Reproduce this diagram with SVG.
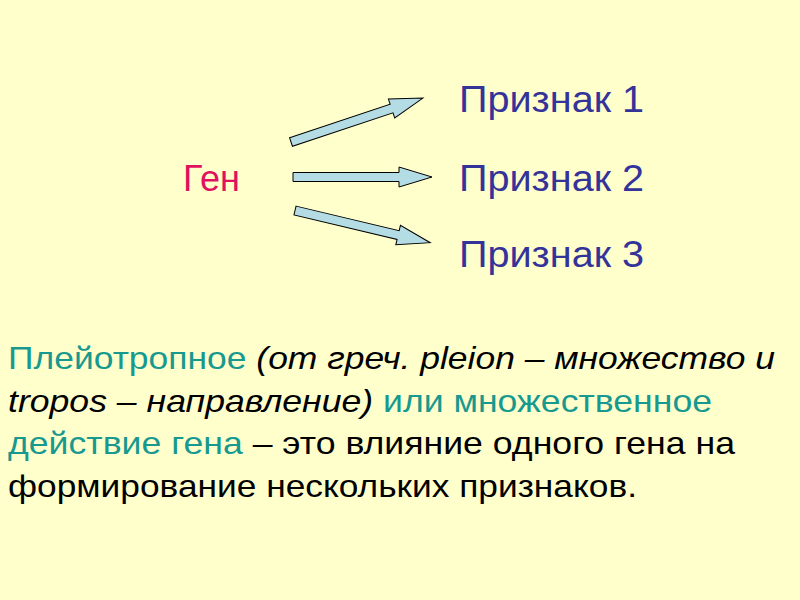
<svg xmlns="http://www.w3.org/2000/svg" width="800" height="600" viewBox="0 0 800 600">
<style>
.bg{fill:#FFFFCC}
.arrow{fill:#B4DCE4;stroke:#000;stroke-width:1}
.trait{font-family:"Liberation Sans",Arial,sans-serif;font-size:37px;fill:#333399}
.gene{font-family:"Liberation Sans",Arial,sans-serif;font-size:36px;fill:#E0115F}
.body{font-family:"Liberation Sans Narrow","Liberation Sans",Arial,sans-serif;font-size:32px;fill:#000}
.teal{fill:#17998F}
.it{font-style:italic}
</style>
<defs>
<polygon id="arr" points="0,-4.5 106,-4.5 106,-10 139,0 106,10 106,4.5 0,4.5"/>
</defs>
<rect class="bg" x="0" y="0" width="800" height="600"/>
<g id="gene"><text class="gene" x="183" y="191">Ген</text></g>
<g id="trait1"><text class="trait" x="459" y="112" textLength="185" lengthAdjust="spacingAndGlyphs">Признак 1</text></g>
<g id="trait2"><text class="trait" x="459" y="191" textLength="185" lengthAdjust="spacingAndGlyphs">Признак 2</text></g>
<g id="trait3"><text class="trait" x="459" y="267" textLength="185" lengthAdjust="spacingAndGlyphs">Признак 3</text></g>
<g id="connectors">
<use href="#arr" class="arrow" transform="translate(291,142) rotate(-18.4)"/>
<use href="#arr" class="arrow" transform="translate(293,177)"/>
<use href="#arr" class="arrow" transform="translate(295,210.5) rotate(13.4)"/>
</g>
<g id="definition">
<text class="body" x="8" y="369" textLength="767" lengthAdjust="spacingAndGlyphs"><tspan class="teal">Плейотропное </tspan><tspan class="it">(от греч. pleion – множество и</tspan></text>
<text class="body" x="8" y="412" textLength="704" lengthAdjust="spacingAndGlyphs"><tspan class="it">tropos – направление)</tspan><tspan class="teal"> или множественное</tspan></text>
<text class="body" x="8" y="454" textLength="727" lengthAdjust="spacingAndGlyphs"><tspan class="teal">действие гена</tspan> – это влияние одного гена на</text>
<text class="body" x="8" y="497" textLength="629" lengthAdjust="spacingAndGlyphs">формирование нескольких признаков.</text>
</g>
</svg>
